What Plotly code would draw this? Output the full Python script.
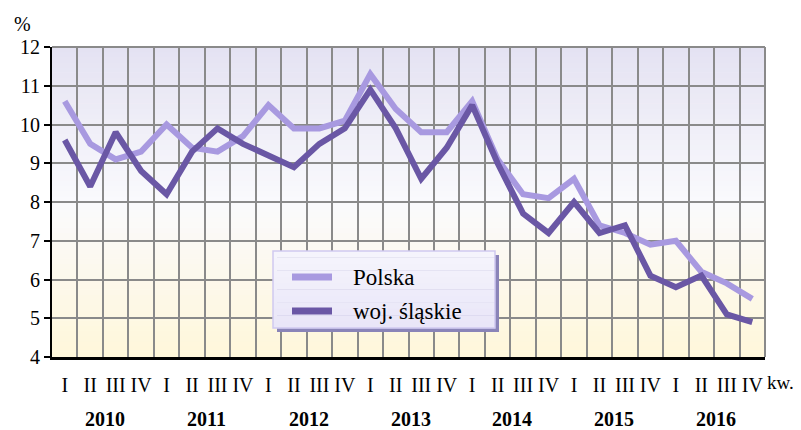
import plotly.graph_objects as go

quarters = ["I", "II", "III", "IV"] * 7
years = ["2010", "2011", "2012", "2013", "2014", "2015", "2016"]
polska = [10.6, 9.5, 9.1, 9.3, 10.0, 9.4, 9.3, 9.7, 10.5, 9.9, 9.9, 10.1,
          11.3, 10.4, 9.8, 9.8, 10.6, 9.1, 8.2, 8.1, 8.6, 7.4, 7.2, 6.9,
          7.0, 6.2, 5.9, 5.5]
slaskie = [9.6, 8.4, 9.8, 8.8, 8.2, 9.3, 9.9, 9.5, 9.2, 8.9, 9.5, 9.9,
           10.9, 9.9, 8.6, 9.4, 10.5, 9.0, 7.7, 7.2, 8.0, 7.2, 7.4, 6.1,
           5.8, 6.1, 5.1, 4.9]
y_ticks = [4, 5, 6, 7, 8, 9, 10, 11, 12]
series_names = ["Polska", "woj. śląskie"]
series_colors = ["#A899E0", "#6A57A5"]

xs = list(range(len(quarters)))
FONT = "Liberation Serif, Times New Roman, serif"
FS = 20

# plot area geometry in page pixels (used for manual legend placement)
PL, PR, PT, PB = 52, 765, 47, 357
def px(xp):
    return (xp - PL) / (PR - PL)
def py(yp):
    return (PB - yp) / (PB - PT)

fig = go.Figure()
for name, vals, col in zip(series_names, [polska, slaskie], series_colors):
    fig.add_trace(go.Scatter(x=xs, y=vals, mode="lines", name=name,
                             line=dict(color=col, width=6), showlegend=False))

# gradient background
shapes = []
N = 60
def lerp(a, b, t):
    return tuple(round(a[i] + (b[i] - a[i]) * t) for i in range(3))
top_c = (228, 226, 242)
mid_c = (250, 250, 253)
bot_c = (255, 247, 218)
for i in range(N):
    f0 = i / N
    f1 = (i + 1) / N
    fm = (f0 + f1) / 2
    if fm > 0.5:
        c = lerp(mid_c, top_c, (fm - 0.5) / 0.5)
    else:
        c = lerp(bot_c, mid_c, fm / 0.5)
    shapes.append(dict(type="rect", xref="x domain", yref="y domain",
                       x0=0, x1=1, y0=f0, y1=f1 + 0.002, layer="below",
                       line=dict(width=0), fillcolor="rgb(%d,%d,%d)" % c))
# top & right border
shapes.append(dict(type="line", xref="x domain", yref="y domain", x0=0, x1=1,
                   y0=1, y1=1, line=dict(color="#8A8A8A", width=2), layer="below"))
shapes.append(dict(type="line", xref="x domain", yref="y domain", x0=1, x1=1,
                   y0=0, y1=1, line=dict(color="#8A8A8A", width=2), layer="below"))

# manual legend: shadow, box (gradient), swatches
LX0, LX1, LY0, LY1 = 273, 495, 251, 328
shapes.append(dict(type="rect", xref="paper", yref="paper",
                   x0=px(LX0 + 4), x1=px(LX1 + 4), y0=py(LY1 + 4), y1=py(LY0 + 4),
                   line=dict(width=0), fillcolor="#8A84B8", layer="above"))
M = 12
for i in range(M):
    a = LY0 + (LY1 - LY0) * i / M
    b = LY0 + (LY1 - LY0) * (i + 1) / M
    c = lerp((246, 245, 252), (232, 229, 248), (i + 0.5) / M)
    shapes.append(dict(type="rect", xref="paper", yref="paper",
                       x0=px(LX0), x1=px(LX1), y0=py(b + 0.3), y1=py(a),
                       line=dict(width=0), fillcolor="rgb(%d,%d,%d)" % c,
                       layer="above"))
shapes.append(dict(type="rect", xref="paper", yref="paper",
                   x0=px(LX0), x1=px(LX1), y0=py(LY1), y1=py(LY0),
                   line=dict(width=1.5, color="#CFC9F0"), fillcolor="rgba(0,0,0,0)",
                   layer="above"))
item_y = [277, 311]
annotations = []
for name, col, yy in zip(series_names, series_colors, item_y):
    shapes.append(dict(type="line", xref="paper", yref="paper",
                       x0=px(292), x1=px(332), y0=py(yy), y1=py(yy),
                       line=dict(color=col, width=7), layer="above"))
    annotations.append(dict(x=px(351), y=py(yy), xref="paper", yref="paper",
                            text=name, showarrow=False, xanchor="left",
                            yanchor="middle",
                            font=dict(family=FONT, size=23, color="black")))

for k, yr in enumerate(years):
    annotations.append(dict(x=4 * k + 1.5, y=py(419), xref="x", yref="paper",
                            text="<b>%s</b>" % yr, showarrow=False, xshift=2,
                            font=dict(family=FONT, size=FS, color="black"),
                            yanchor="middle"))
annotations.append(dict(x=px(766), y=py(382), xref="paper", yref="paper",
                        text="kw.", showarrow=False, xanchor="left",
                        yanchor="middle", borderpad=0,
                        font=dict(family=FONT, size=19, color="black")))
annotations.append(dict(x=px(12), y=py(24), xref="paper", yref="paper",
                        text="%", showarrow=False, xanchor="left",
                        yanchor="middle",
                        font=dict(family=FONT, size=FS, color="black")))

# page has an 8px body margin, so the figure is 8px smaller and margins shifted
OFF = 8
fig.update_layout(
    width=801 - OFF, height=430 - OFF,
    margin=dict(l=PL - OFF, r=801 - PR, t=PT - OFF, b=430 - PB),
    paper_bgcolor="white", plot_bgcolor="white",
    font=dict(family=FONT, size=FS, color="black"),
    shapes=shapes, annotations=annotations,
    xaxis=dict(range=[-0.5, len(quarters) - 0.5], tickmode="array",
               tickvals=xs, ticktext=quarters, showgrid=False,
               ticks="outside", ticklen=8, tickcolor="rgba(0,0,0,0)",
               zeroline=False,
               showline=True, linecolor="black", linewidth=3, mirror=False,
               tickfont=dict(family=FONT, size=FS),
               minor=dict(tickmode="array",
                          tickvals=[i + 0.5 for i in xs[:-1]],
                          showgrid=True, gridcolor="#8A8A8A", gridwidth=2,
                          ticks="")),
    yaxis=dict(range=[4, 12], tickmode="array", tickvals=y_ticks,
               showgrid=True, gridcolor="#8A8A8A", gridwidth=2,
               zeroline=False, showline=True, linecolor="black", linewidth=2,
               ticks="outside", ticklen=6, tickcolor="black", tickwidth=2,
               tickfont=dict(family=FONT, size=FS)),
)

fig.write_html("out.html")
